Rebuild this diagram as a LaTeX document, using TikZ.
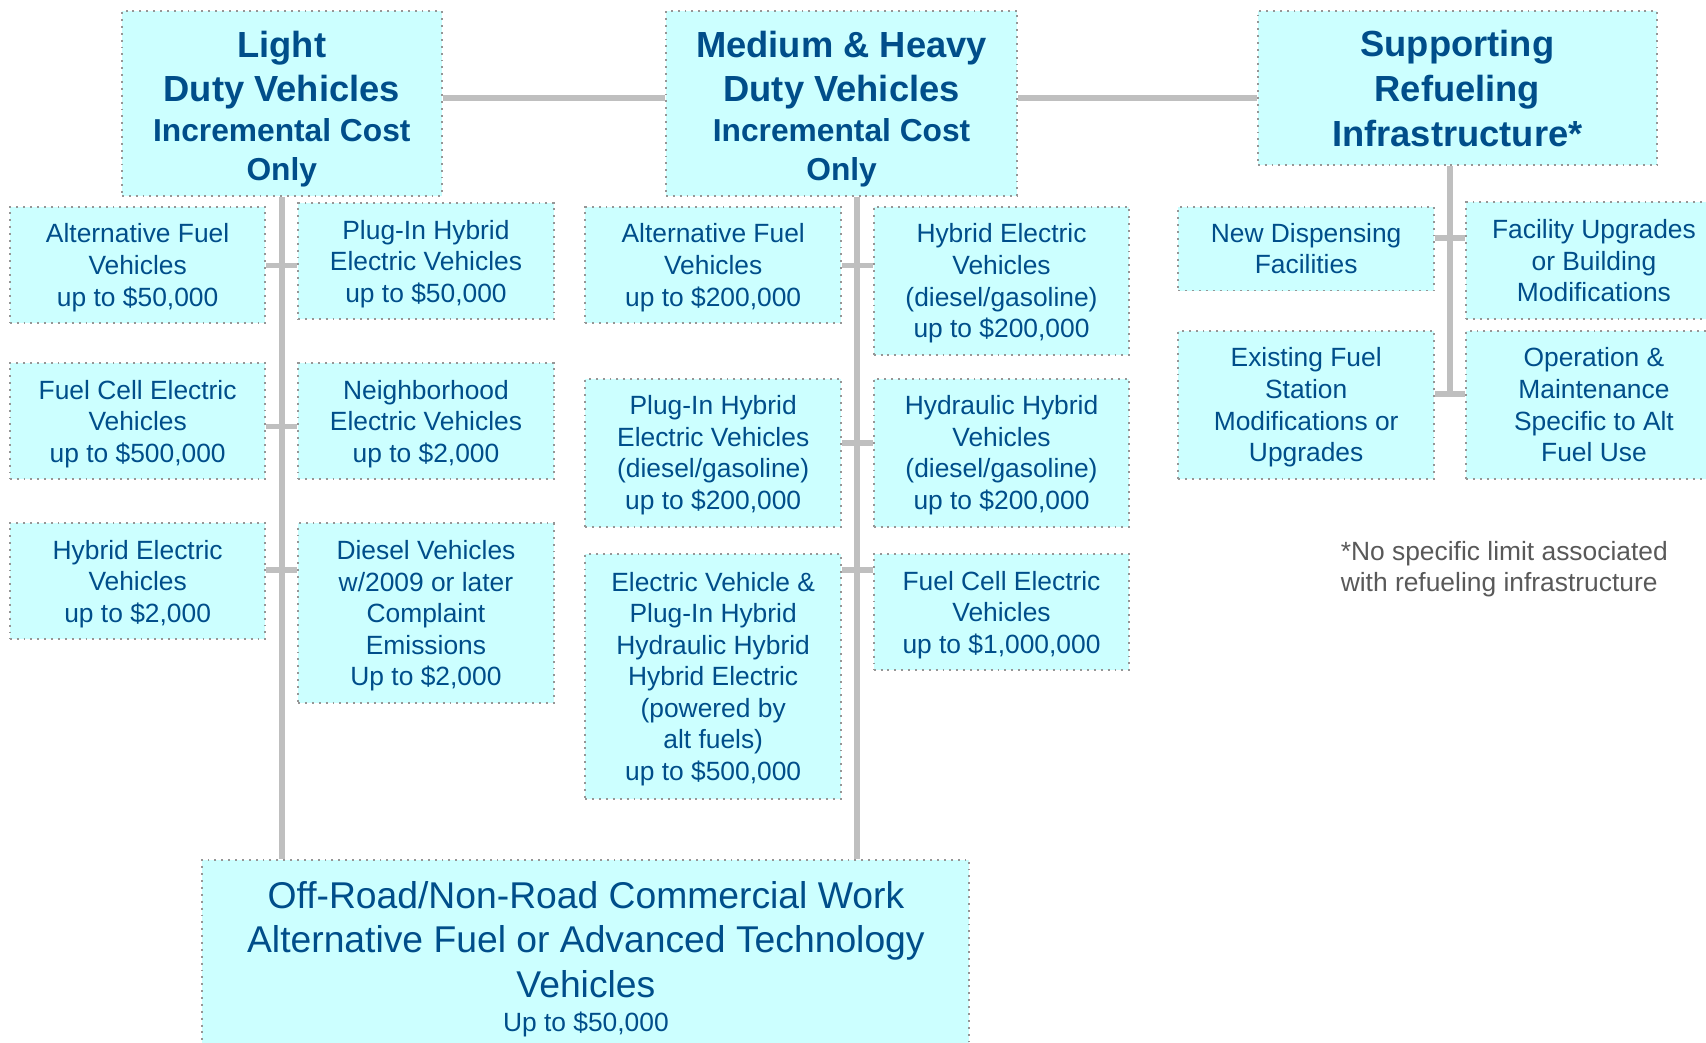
\documentclass[tikz,border=0pt]{standalone}
\usepackage{fontspec}
\setmainfont{Liberation Sans}
\definecolor{boxcyan}{RGB}{204,255,255}
\definecolor{navytext}{RGB}{0,78,138}
\definecolor{linkgray}{RGB}{191,191,191}
\definecolor{dotgray}{RGB}{150,150,150}
\definecolor{notegray}{RGB}{89,89,89}
\newcommand{\bigfont}{\fontsize{19}{23.5}\selectfont\bfseries}
\newcommand{\midfont}{\fontsize{16.6}{20.5}\selectfont\bfseries}
\newcommand{\offfont}{\fontsize{19.5}{23.4}\selectfont}
\begin{document}
\begin{tikzpicture}[x=0.02cm, y=-0.02cm]
		\tikzset{nd/.style={draw=dotgray, fill=boxcyan, dash pattern=on 1pt off 2.6pt, line width=1pt, align=center, text=navytext, inner sep=0pt, font=\fontsize{13.8}{16.5}\selectfont, minimum width=4.7cm, minimum height=2.14cm, text depth=-0.4pt}};
		\tikzset{hd/.style={nd, minimum height=3.4cm, font=\bigfont, text depth=}};
		\tikzset{link/.style={draw=linkgray, line width=3pt}};
		\useasboundingbox (0,0) rectangle (1568,958);

		\node[hd, minimum width=5.88cm] (ld) at (259, 95) {\rule{0pt}{19.5pt}Light\\Duty Vehicles\\[-3pt]{\midfont Incremental Cost}\\[-3pt]{\midfont Only}};
		\node[hd, minimum width=6.46cm] (mh) at (773.5, 95) {\rule{0pt}{19.5pt}Medium \& Heavy\\Duty Vehicles\\[-3pt]{\midfont Incremental Cost}\\[-3pt]{\midfont Only}};
		\node[hd, minimum width=7.34cm, minimum height=2.84cm] (sr) at (1339.5, 81) {Supporting\\Refueling\\Infrastructure*};

		\node[nd] (l1) at (126.5, 243.5) {Alternative Fuel\\Vehicles\\up to \$50,000};
		\node[nd] (l2) at (126.5, 387) {Fuel Cell Electric\\Vehicles\\up to \$500,000};
		\node[nd] (l3) at (126.5, 534) {Hybrid Electric\\Vehicles\\up to \$2,000};
		\node[nd] (r1) at (391.5, 240) {Plug-In Hybrid\\Electric Vehicles\\up to \$50,000};
		\node[nd] (r2) at (391.5, 387) {Neighborhood\\Electric Vehicles\\up to \$2,000};
		\node[nd, minimum height=3.3cm] (r3) at (391.5, 563.5) {Diesel Vehicles\\w/2009 or later\\Complaint\\Emissions\\Up to \$2,000};

		\node[nd] (m1) at (655.5, 243.5) {Alternative Fuel\\Vehicles\\up to \$200,000};
		\node[nd, minimum height=2.72cm] (m2) at (655.5, 416) {Plug-In Hybrid\\Electric Vehicles\\(diesel/gasoline)\\up to \$200,000};
		\node[nd, minimum height=4.5cm] (m3) at (655.5, 621.5) {Electric Vehicle \&\\Plug-In Hybrid\\Hydraulic Hybrid\\Hybrid Electric\\(powered by\\alt fuels)\\up to \$500,000};
		\node[nd, minimum height=2.72cm] (n1) at (920.5, 258) {Hybrid Electric\\Vehicles\\(diesel/gasoline)\\up to \$200,000};
		\node[nd, minimum height=2.72cm] (n2) at (920.5, 416) {Hydraulic Hybrid\\Vehicles\\(diesel/gasoline)\\up to \$200,000};
		\node[nd] (n3) at (920.5, 562.5) {Fuel Cell Electric\\Vehicles\\up to \$1,000,000};

		\node[nd, minimum height=1.54cm] (s1) at (1200.5, 228.5) {New Dispensing\\Facilities};
		\node[nd, minimum height=2.72cm] (s2) at (1200.5, 372) {Existing Fuel\\Station\\Modifications or\\Upgrades};
		\node[nd] (t1) at (1465, 239.5) {Facility Upgrades\\or Building\\Modifications};
		\node[nd, minimum height=2.72cm] (t2) at (1465, 372) {Operation \&\\Maintenance\\Specific to Alt\\Fuel Use};

		\node[nd, font=\offfont, minimum width=14.1cm, minimum height=3.56cm] (off) at (538.5, 879) {Off-Road/Non-Road Commercial Work\\Alternative Fuel or Advanced Technology\\Vehicles\\[-5.5pt]{\fontsize{13.8}{16.5}\selectfont Up to \$50,000}};

		\node[anchor=north west, align=left, inner sep=0pt, text=notegray, font=\fontsize{13.8}{16.5}\selectfont] (note) at (1232, 497) {*No specific limit associated\\with refueling infrastructure};

		\coordinate (top) at (0, 90);
		\coordinate (mx) at (788, 0);
		\coordinate (sx) at (1333, 0);
		\coordinate (lrow1) at (0, 244);
		\coordinate (lrow2) at (0, 392);
		\coordinate (lrow3) at (0, 524);
		\coordinate (mrow1) at (0, 244);
		\coordinate (mrow2) at (0, 407);
		\coordinate (mrow3) at (0, 524);
		\coordinate (srow1) at (0, 219);
		\coordinate (srow2) at (0, 362);

		\draw[link] (ld.east |- top) -- (mh.west |- top);
		\draw[link] (mh.east |- top) -- (sr.west |- top);

		\draw[link] (ld.south) -- (ld.south |- off.north);
		\draw[link] (mx |- mh.south) -- (mx |- off.north);
		\draw[link] (sx |- sr.south) -- (sx |- srow2);

		\draw[link] (l1.east |- lrow1) -- (r1.west |- lrow1);
		\draw[link] (l2.east |- lrow2) -- (r2.west |- lrow2);
		\draw[link] (l3.east |- lrow3) -- (r3.west |- lrow3);

		\draw[link] (m1.east |- mrow1) -- (n1.west |- mrow1);
		\draw[link] (m2.east |- mrow2) -- (n2.west |- mrow2);
		\draw[link] (m3.east |- mrow3) -- (n3.west |- mrow3);

		\draw[link] (s1.east |- srow1) -- (t1.west |- srow1);
		\draw[link] (s2.east |- srow2) -- (t2.west |- srow2);

	\end{tikzpicture}
\end{document}
